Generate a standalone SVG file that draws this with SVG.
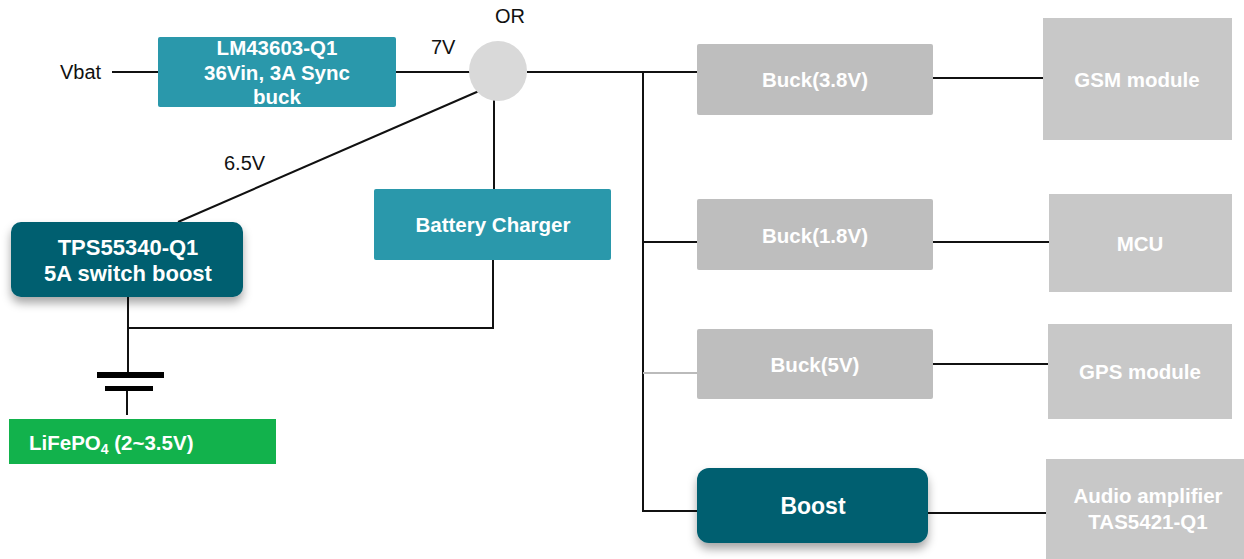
<svg xmlns="http://www.w3.org/2000/svg" width="1244" height="559" viewBox="0 0 1244 559">
<style>
.t{font-family:"Liberation Sans",Arial,sans-serif;font-weight:bold;fill:#fff;text-anchor:middle;font-size:20.5px}
.l{font-family:"Liberation Sans",Arial,sans-serif;fill:#111;font-size:20px}
.w{stroke:#111;stroke-width:2;fill:none}
.teal{fill:#2a98ab}
.dark{fill:#005f70}
.buck{fill:#bebebe}
.mod{fill:#c8c8c8}
</style>
<defs>
<filter id="sh" x="-20%" y="-20%" width="140%" height="160%">
<feDropShadow dx="0" dy="6" stdDeviation="5" flood-color="#000" flood-opacity="0.35"/>
</filter>
</defs>
<g id="connectors">
<line class="w" x1="112" y1="72" x2="158" y2="72"/>
<line class="w" x1="396" y1="72" x2="470" y2="72"/>
<line class="w" x1="527" y1="72" x2="697" y2="72"/>
<line class="w" x1="643" y1="72" x2="643" y2="512"/>
<line class="w" x1="933" y1="78" x2="1043" y2="78"/>
<line class="w" x1="643" y1="242" x2="697" y2="242"/>
<line class="w" x1="933" y1="242" x2="1049" y2="242"/>
<line stroke="#bbb" stroke-width="2" x1="643" y1="373" x2="697" y2="373"/>
<line class="w" x1="933" y1="364" x2="1048" y2="364"/>
<line class="w" x1="643" y1="511" x2="697" y2="511"/>
<line class="w" x1="928" y1="513" x2="1047" y2="513"/>
<line class="w" x1="479" y1="91" x2="178" y2="222"/>
<line class="w" x1="494" y1="100" x2="494" y2="189"/>
<polyline class="w" points="493,260 493,328 128,328"/>
<line class="w" x1="128" y1="297" x2="128" y2="374"/>
<line class="w" x1="127" y1="389" x2="127" y2="415"/>
<rect x="97" y="372" width="67" height="6" fill="#000"/>
<rect x="105" y="386" width="48" height="5" fill="#000"/>
</g>
<g id="vbat"><text class="l" x="60" y="79">Vbat</text></g>
<g id="lm43603">
<rect class="teal" x="158" y="37" width="238" height="70" rx="2"/>
<text class="t" x="277" y="55">LM43603-Q1</text>
<text class="t" x="277" y="80">36Vin, 3A Sync</text>
<text class="t" x="277" y="104">buck</text>
</g>
<g id="label7v"><text class="l" x="431" y="54" font-size="19">7V</text></g>
<g id="or">
<ellipse cx="498" cy="71" rx="29" ry="30" fill="#d9d9d9"/>
<text class="l" x="510" y="23" text-anchor="middle">OR</text>
</g>
<g id="label65"><text class="l" x="224" y="170">6.5V</text></g>
<g id="tps55340">
<rect class="dark" x="11" y="222" width="232" height="75" rx="10" filter="url(#sh)"/>
<text class="t" x="128" y="255" style="font-size:22px">TPS55340-Q1</text>
<text class="t" x="128" y="281" style="font-size:22px">5A switch boost</text>
</g>
<g id="charger">
<rect class="teal" x="374" y="189" width="237" height="71" rx="2"/>
<text class="t" x="493" y="232">Battery Charger</text>
</g>
<g id="lifepo4">
<rect x="9" y="419" width="267" height="45" fill="#12b24c"/>
<text class="t" x="29" y="450" style="text-anchor:start;font-size:20.5px">LiFePO<tspan font-size="14" dy="4">4</tspan><tspan dy="-4"> (2~3.5V)</tspan></text>
</g>
<g id="buck38">
<rect class="buck" x="697" y="44" width="236" height="71" rx="2"/>
<text class="t" x="815" y="87">Buck(3.8V)</text>
</g>
<g id="gsm">
<rect class="mod" x="1043" y="18" width="189" height="122"/>
<text class="t" x="1137" y="87">GSM module</text>
</g>
<g id="buck18">
<rect class="buck" x="697" y="199" width="236" height="71" rx="2"/>
<text class="t" x="815" y="243">Buck(1.8V)</text>
</g>
<g id="mcu">
<rect class="mod" x="1049" y="194" width="183" height="98"/>
<text class="t" x="1140" y="251">MCU</text>
</g>
<g id="buck5">
<rect class="buck" x="697" y="329" width="236" height="70" rx="2"/>
<text class="t" x="815" y="372">Buck(5V)</text>
</g>
<g id="gps">
<rect class="mod" x="1048" y="324" width="184" height="95"/>
<text class="t" x="1140" y="379">GPS module</text>
</g>
<g id="boost">
<rect class="dark" x="697" y="468" width="231" height="75" rx="12" filter="url(#sh)"/>
<text class="t" x="813" y="514" style="font-size:23px">Boost</text>
</g>
<g id="audio">
<rect class="mod" x="1046" y="459" width="198" height="100"/>
<text class="t" x="1148" y="503">Audio amplifier</text>
<text class="t" x="1148" y="529">TAS5421-Q1</text>
</g>
</svg>
